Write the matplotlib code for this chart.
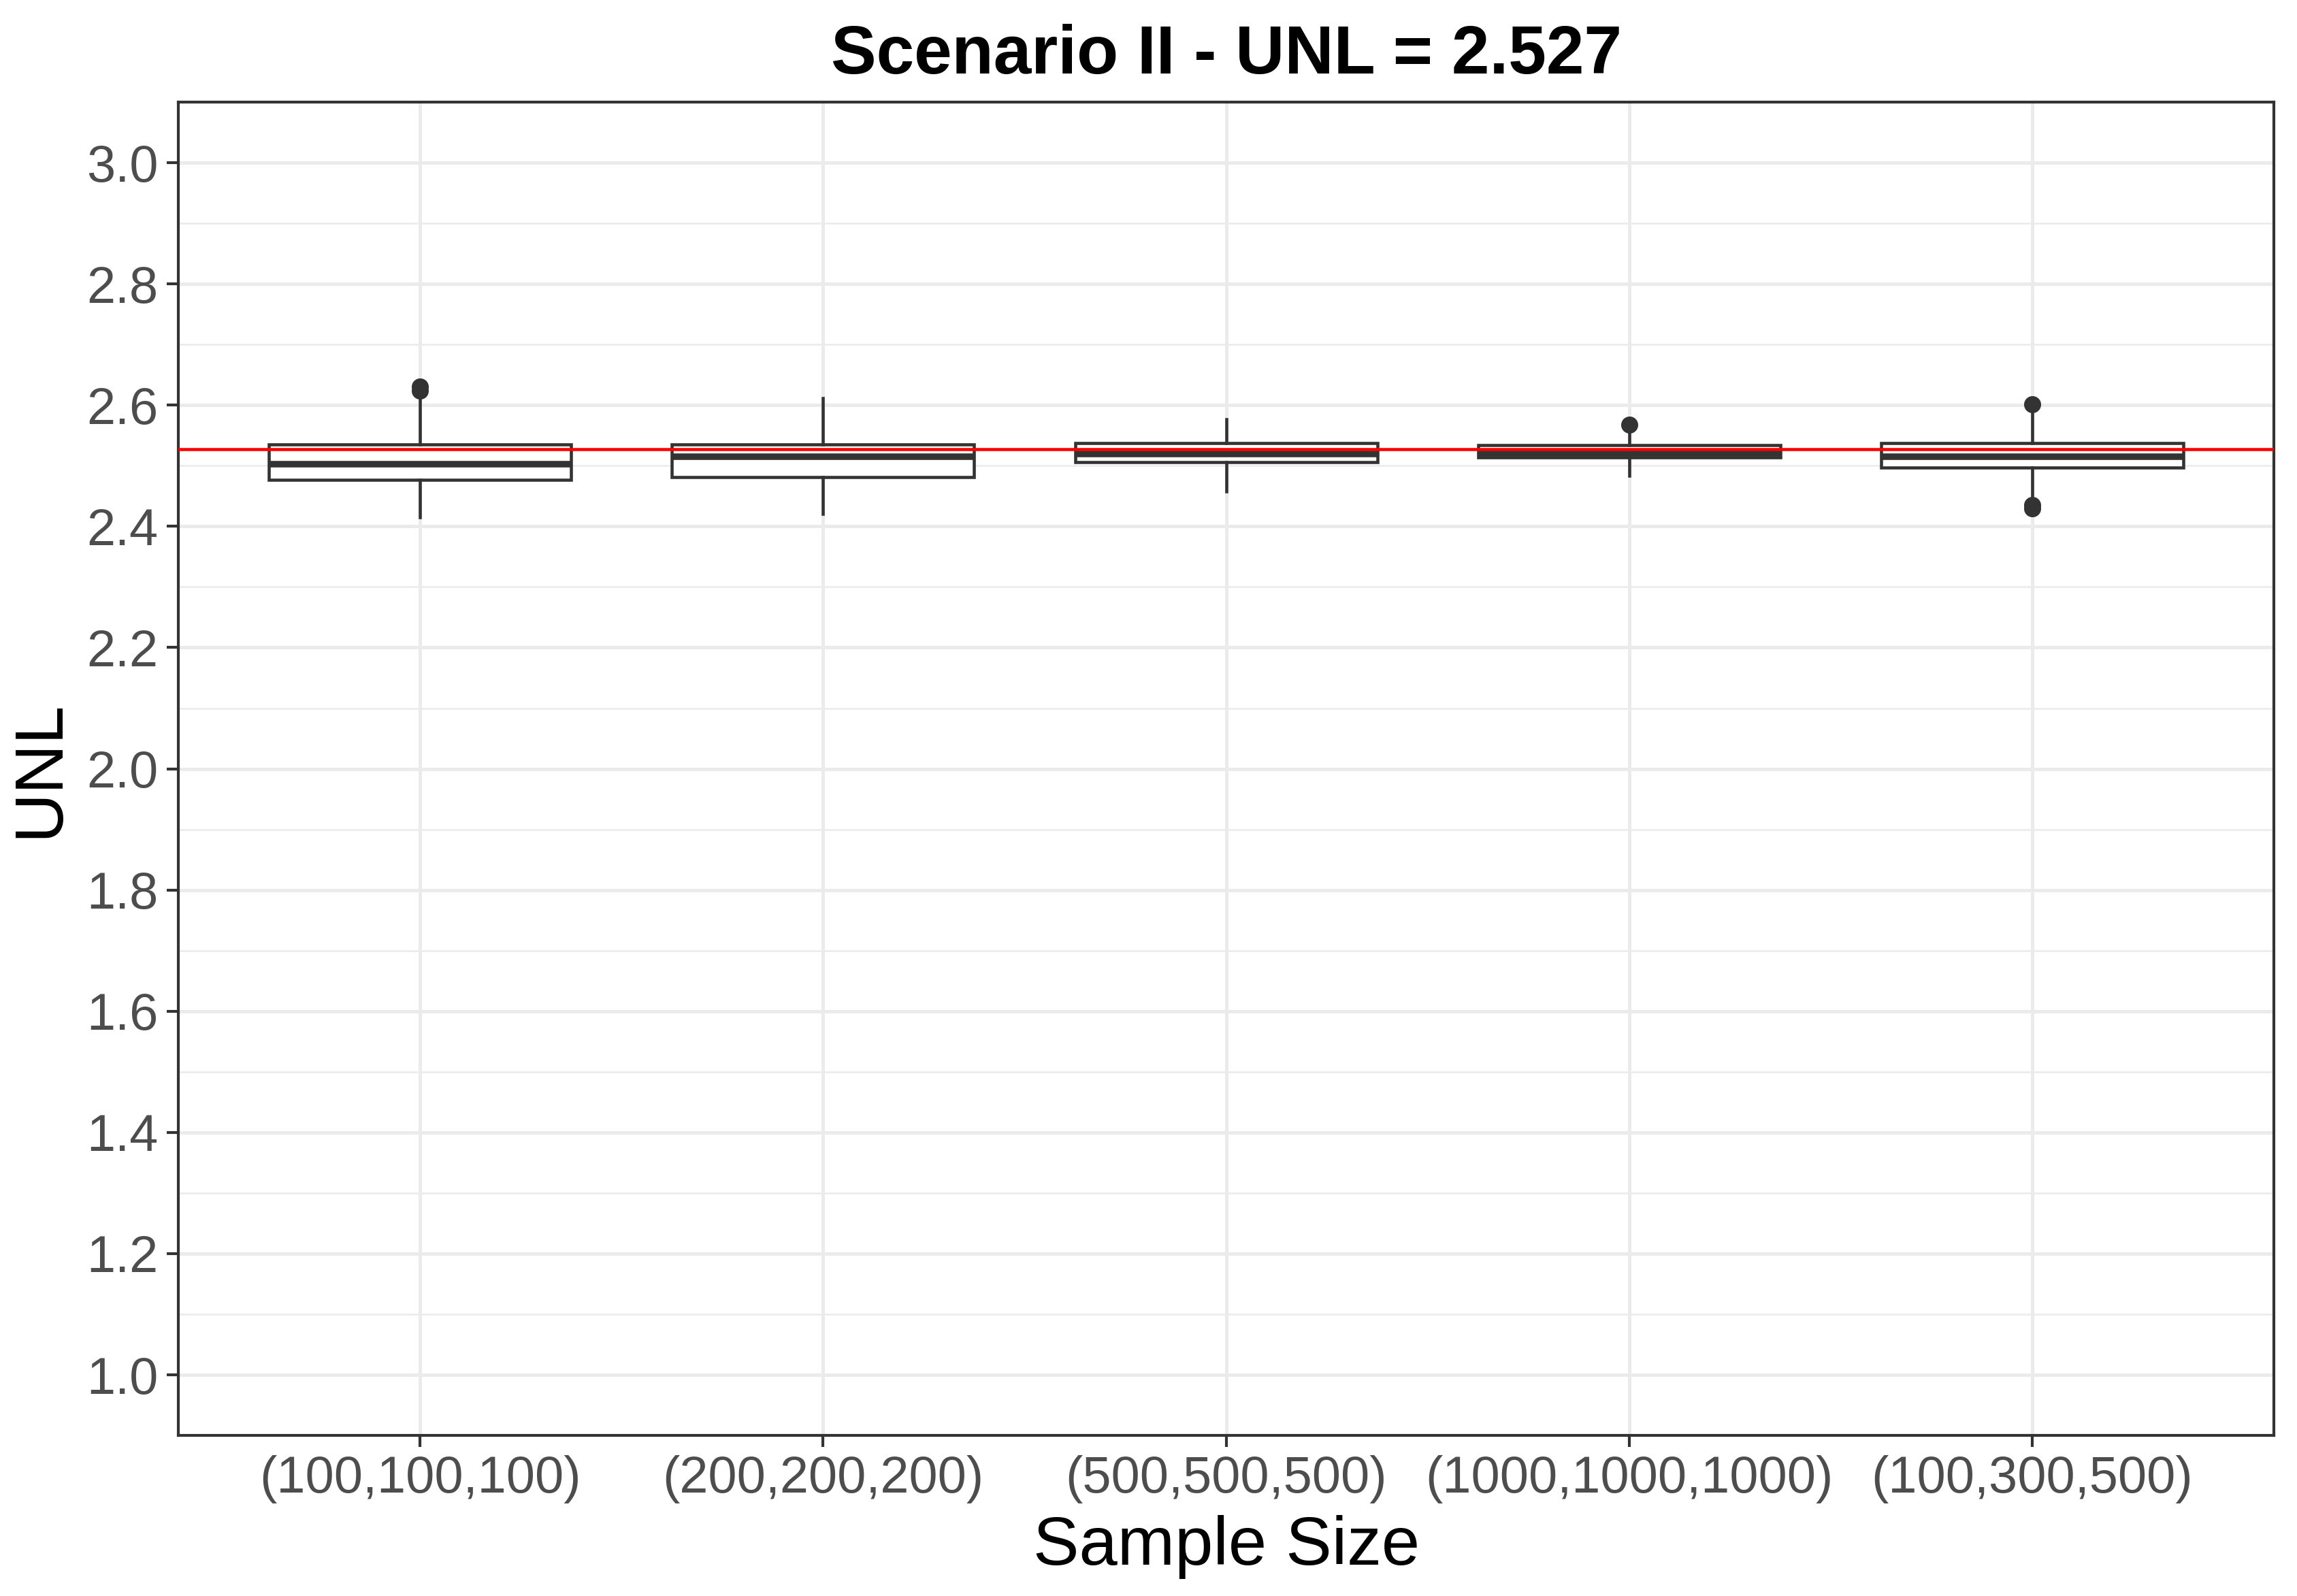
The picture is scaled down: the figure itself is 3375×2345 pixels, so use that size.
import matplotlib.pyplot as plt
import matplotlib as mpl

plt.rcParams['font.family'] = ['Liberation Sans', 'DejaVu Sans']

# five-number summaries
sample_sizes = ['(100,100,100)', '(200,200,200)', '(500,500,500)', '(1000,1000,1000)', '(100,300,500)']
whisker_low = [2.415, 2.421, 2.458, 2.483, 2.451]
q1 = [2.477, 2.481, 2.506, 2.514, 2.497]
median = [2.503, 2.515, 2.519, 2.521, 2.515]
q3 = [2.535, 2.535, 2.538, 2.534, 2.538]
whisker_high = [2.610, 2.612, 2.5765, 2.556, 2.589]
outliers = [[2.624, 2.6305], [], [], [2.568], [2.430, 2.435, 2.601]]
true_unl = 2.527

stats = []
for i, name in enumerate(sample_sizes):
    stats.append({'label': name, 'whislo': whisker_low[i], 'q1': q1[i], 'med': median[i],
                  'q3': q3[i], 'whishi': whisker_high[i], 'fliers': outliers[i]})

fig = plt.figure(figsize=(11.25, 2345 / 300), dpi=300)
ax = fig.add_axes([0.0776, 0.1006, 0.9124, 0.8354])

dark = '#333333'
grid = '#EBEBEB'

# grid first so boxes sit on top
for y in [1.0, 1.2, 1.4, 1.6, 1.8, 2.0, 2.2, 2.4, 2.6, 2.8, 3.0]:
    ax.axhline(y, color=grid, lw=1.2, zorder=0)
for y in [1.1, 1.3, 1.5, 1.7, 1.9, 2.1, 2.3, 2.5, 2.7, 2.9]:
    ax.axhline(y, color=grid, lw=0.6, zorder=0)
for x in range(1, 6):
    ax.axvline(x, color=grid, lw=1.2, zorder=0)

ax.bxp(stats, positions=range(1, 6), widths=0.75, patch_artist=True, showcaps=False,
       boxprops=dict(facecolor='white', edgecolor=dark, lw=1.1),
       whiskerprops=dict(color=dark, lw=1.1),
       medianprops=dict(color=dark, lw=2.3),
       flierprops=dict(marker='o', markerfacecolor=dark, markeredgecolor=dark, markersize=5),
       zorder=2)

ax.axhline(true_unl, color='red', lw=1.1, zorder=3)

ax.set_xlim(0.4, 5.6)
ax.set_ylim(0.9, 3.1)
ax.set_yticks([1.0, 1.2, 1.4, 1.6, 1.8, 2.0, 2.2, 2.4, 2.6, 2.8, 3.0])
ax.set_yticklabels(['1.0', '1.2', '1.4', '1.6', '1.8', '2.0', '2.2', '2.4', '2.6', '2.8', '3.0'])
ax.set_xticks(range(1, 6))
ax.set_xticklabels(sample_sizes)
ax.tick_params(axis='both', colors=dark, labelcolor='#4D4D4D', labelsize=18.2, length=4, width=1.0, pad=3)

for s in ax.spines.values():
    s.set_color(dark)
    s.set_linewidth(1.0)

ax.set_xlabel('Sample Size', fontsize=24.3, labelpad=4)
ax.set_ylabel('UNL', fontsize=24.3, labelpad=5)
ax.set_title('Scenario II - UNL = 2.527', fontsize=24, fontweight='bold', pad=10)

fig.savefig('out.png', dpi=300, facecolor='white')
